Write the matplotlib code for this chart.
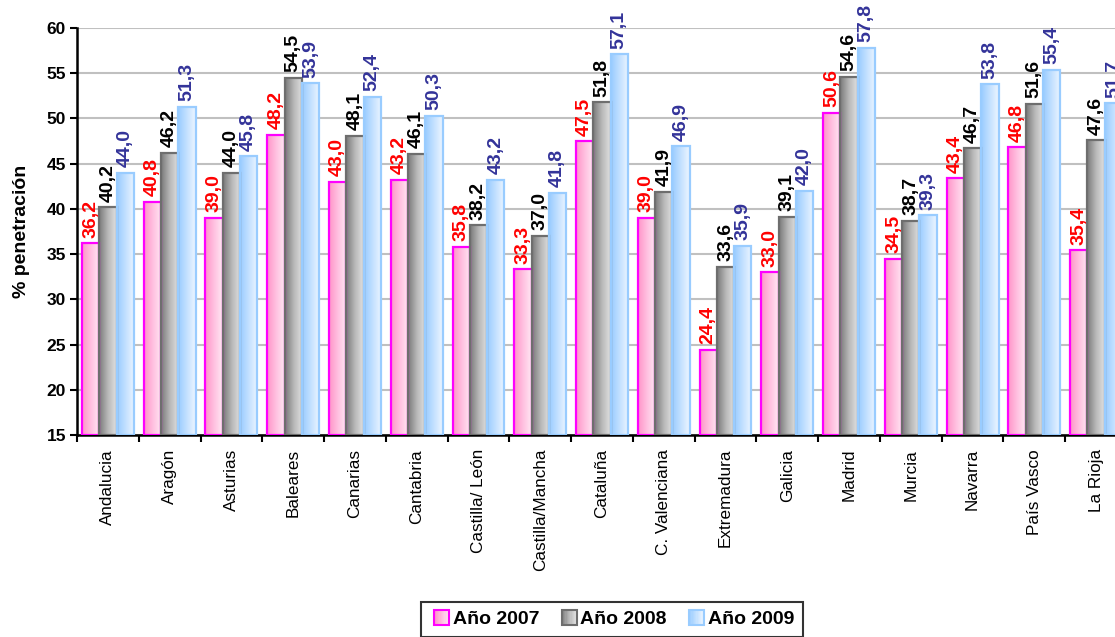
import numpy as np
import matplotlib
matplotlib.use("Agg")
import matplotlib.pyplot as plt
from matplotlib.colors import LinearSegmentedColormap
from matplotlib.patches import Rectangle
from matplotlib.legend_handler import HandlerBase

plt.rcParams['font.family'] = ['Liberation Sans', 'DejaVu Sans']

regions = ["Andalucia", "Aragón", "Asturias", "Baleares", "Canarias", "Cantabria",
           "Castilla/ León", "Castilla/Mancha", "Cataluña", "C. Valenciana",
           "Extremadura", "Galicia", "Madrid", "Murcia", "Navarra", "País Vasco",
           "La Rioja"]
series_names = ["Año 2007", "Año 2008", "Año 2009"]
pen_2007 = [36.2, 40.8, 39.0, 48.2, 43.0, 43.2, 35.8, 33.3, 47.5, 39.0, 24.4,
            33.0, 50.6, 34.5, 43.4, 46.8, 35.4]
pen_2008 = [40.2, 46.2, 44.0, 54.5, 48.1, 46.1, 38.2, 37.0, 51.8, 41.9, 33.6,
            39.1, 54.6, 38.7, 46.7, 51.6, 47.6]
pen_2009 = [44.0, 51.3, 45.8, 53.9, 52.4, 50.3, 43.2, 41.8, 57.1, 46.9, 35.9,
            42.0, 57.8, 39.3, 53.8, 55.4, 51.7]
y_ticks = [15, 20, 25, 30, 35, 40, 45, 50, 55, 60]

# visual style per series: gradient (left -> right), edge colour, label colour
styles = [
    dict(grad=["#FF94C8", "#FFC0E0", "#FFE8F4"], edge="#FF00FF", text="#FF0000"),
    dict(grad=["#7A7A7A", "#B8B8B8", "#E2E2E2"], edge="#6E6E6E", text="#000000"),
    dict(grad=["#99CCFF", "#C4E1FF", "#EEF6FF"], edge="#99CCFF", text="#333399"),
]
cmaps = [LinearSegmentedColormap.from_list(f"g{i}", s["grad"]) for i, s in enumerate(styles)]

fig = plt.figure(figsize=(11.15, 6.37), dpi=100)
ax = fig.add_axes([77 / 1115, 1 - 435 / 637, 1050 / 1115, 407 / 637])

x = np.arange(len(regions))
bw = 0.28
ymin, ymax = 15, 60
grad = np.linspace(0, 1, 64).reshape(1, -1)

for k, vals in enumerate([pen_2007, pen_2008, pen_2009]):
    st = styles[k]
    bars = ax.bar(x + (k - 1) * bw, np.array(vals) - ymin, width=bw, bottom=ymin,
                  facecolor="none", edgecolor=st["edge"], linewidth=1.6, zorder=3)
    for b, v in zip(bars, vals):
        x0, w = b.get_x(), b.get_width()
        im = ax.imshow(grad, cmap=cmaps[k], aspect="auto",
                       extent=[x0, x0 + w, ymin, v], zorder=2.5,
                       interpolation="bilinear")
        im.set_clip_path(b)
        ax.annotate(f"{v:.1f}".replace(".", ","), xy=(x0 + w / 2, v),
                    xytext=(0, 4), textcoords="offset points",
                    rotation=90, ha="center", va="bottom",
                    fontsize=14, fontweight="bold", color=st["text"],
                    zorder=5, annotation_clip=False)

ax.set_xlim(-0.5, len(regions) - 0.5)
ax.set_ylim(ymin, ymax)
ax.set_yticks(y_ticks)
ax.set_yticklabels([str(t) for t in y_ticks], fontsize=12.5, fontweight="bold")
ax.yaxis.grid(True, color="#C0C0C0", linewidth=1.5, zorder=0)
ax.set_axisbelow(True)

ax.set_xticks(x)
ax.set_xticklabels(regions, rotation=90, fontsize=12.3, va="top", ha="center")
ax.tick_params(axis="x", length=0, pad=10)
ax.set_xticks(np.arange(len(regions) + 1) - 0.5, minor=True)
ax.tick_params(axis="x", which="minor", length=5, width=1.5, direction="out")
ax.tick_params(axis="y", length=5, width=1.5, direction="out", pad=3)

for s in ["top", "right"]:
    ax.spines[s].set_visible(False)
for s in ["left", "bottom"]:
    ax.spines[s].set_linewidth(1.8)
    ax.spines[s].set_color("black")

ax.set_ylabel("% penetración", fontsize=14, fontweight="bold", labelpad=12)


class GradientHandler(HandlerBase):
    def __init__(self, idx):
        super().__init__()
        self.idx = idx

    def create_artists(self, legend, orig_handle, xdescent, ydescent, width,
                       height, fontsize, trans):
        st = styles[self.idx]
        side = min(width, height * 1.1)
        y0 = -ydescent + (height - side) / 2
        x0 = -xdescent + (width - side)
        arts = []
        n = 12
        for i in range(n):
            c = cmaps[self.idx]((i + 0.5) / n)
            arts.append(Rectangle((x0 + side * i / n, y0), side / n + 0.3, side,
                                  facecolor=c, edgecolor="none", transform=trans))
        arts.append(Rectangle((x0, y0), side, side, facecolor="none",
                              edgecolor=st["edge"], linewidth=1.5, transform=trans))
        return arts


handles = [Rectangle((0, 0), 1, 1) for _ in series_names]
leg = fig.legend(handles, series_names, loc="upper center",
                 bbox_to_anchor=(612 / 1115, 1 - 602 / 637), ncol=3,
                 handler_map={h: GradientHandler(i) for i, h in enumerate(handles)},
                 prop=dict(size=14, weight="bold"), frameon=True, fancybox=False,
                 edgecolor="black", handlelength=1.0, handletextpad=0.2,
                 columnspacing=0.9, borderpad=0.45, borderaxespad=0)
leg.get_frame().set_linewidth(1.5)

fig.savefig("out.png", dpi=100)
